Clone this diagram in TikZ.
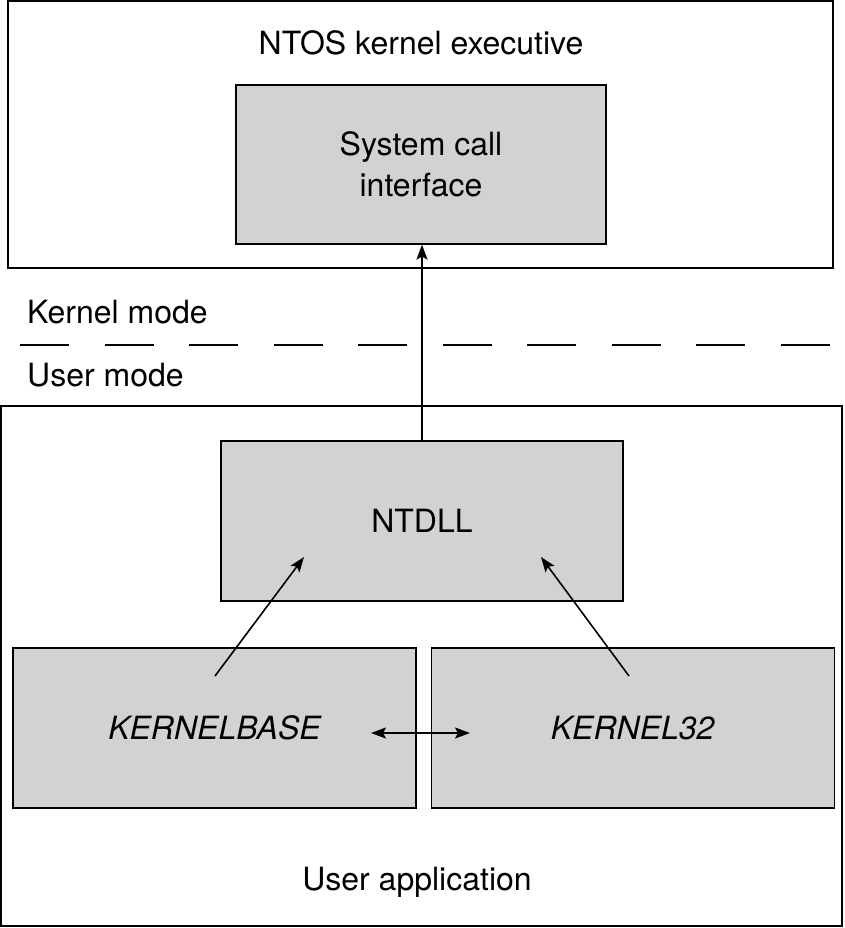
\documentclass[tikz,border=0pt]{standalone}
\usepackage{fontspec}
\setmainfont{TeX Gyre Heros}
\usetikzlibrary{arrows.meta,positioning,calc}
\definecolor{BoxGray}{HTML}{D1D2D4}

\begin{document}
\begin{tikzpicture}[
    x=1pt, y=-1pt,
    font=\fontsize{32}{41}\selectfont,
    frame/.style={rectangle, draw=black, line width=1.2pt, inner sep=0pt},
    layer/.style={rectangle, draw=black, line width=1.2pt, fill=BoxGray, align=center, minimum width=403pt, minimum height=160pt, inner sep=0pt},
    caption/.style={inner sep=0pt},
    modeline/.style={draw=black, line width=1.2pt, dash pattern=on 49pt off 35.5pt},
    arrow/.style={-{Stealth[length=15pt,width=11pt,inset=3pt]}, line width=1.6pt, draw=black},
    twoway/.style={{Stealth[length=15pt,width=11pt,inset=3pt]}-{Stealth[length=15pt,width=11pt,inset=3pt]}, line width=1.6pt, draw=black}
]
\useasboundingbox (0,0) rectangle (844,928);

% kernel side
\node[frame, minimum width=825pt, minimum height=267pt] (kernel) at (420.5,134.5) {};
\node[caption] (ntos) at (421,43) {NTOS kernel executive};
\node[layer, minimum width=370pt, minimum height=159pt] (sci) at (421,164.5) {System call\\interface};

% mode boundary
\node[caption, anchor=west] (kmode) at (27,312) {Kernel mode};
\node[caption, anchor=west] (umode) at (27,375) {User mode};
\coordinate (edge-l) at (20,345);
\coordinate (edge-r) at (830,345);
\draw[modeline] (edge-l) -- (edge-r);

% user side
\node[frame, minimum width=841pt, minimum height=520pt] (user) at (421.5,666) {};
\node[layer, minimum width=402pt] (ntdll) at (422,521) {NTDLL};
\node[layer] (kbase) at (214.5,728) {\itshape KERNELBASE};
\node[layer, right=14pt of kbase] (k32) {\itshape KERNEL32};
\node[caption] (uapp) at (417,882) {User application};

\coordinate (kb-from) at (215,676);
\coordinate (kb-to) at (304,557);
\coordinate (k32-from) at (629,676);
\coordinate (k32-to) at (541,557);
\coordinate (swap-l) at (371,733);
\coordinate (swap-r) at (470,733);

\draw[arrow] (ntdll.north) -- (ntdll.north |- sci.south);
\draw[arrow] (kb-from) -- (kb-to);
\draw[arrow] (k32-from) -- (k32-to);
\draw[twoway] (swap-l) -- (swap-r);
\end{tikzpicture}
\end{document}
